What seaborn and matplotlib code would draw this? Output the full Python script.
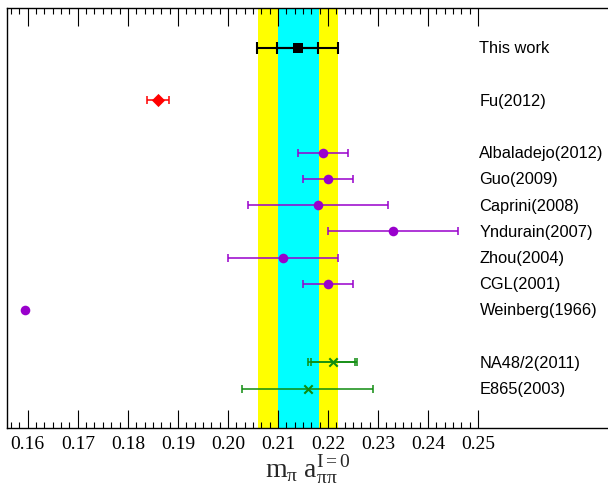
import numpy as np
import pandas as pd
import matplotlib
matplotlib.use("Agg")
import matplotlib.pyplot as plt
import seaborn as sns

# ---------------- data ----------------
rows = ["This work", None, "Fu(2012)", None,
        "Albaladejo(2012)", "Guo(2009)", "Caprini(2008)", "Yndurain(2007)",
        "Zhou(2004)", "CGL(2001)", "Weinberg(1966)", None,
        "NA48/2(2011)", "E865(2003)"]

names  = ["This work", "Fu(2012)", "Albaladejo(2012)", "Guo(2009)", "Caprini(2008)",
          "Yndurain(2007)", "Zhou(2004)", "CGL(2001)", "Weinberg(1966)",
          "NA48/2(2011)", "E865(2003)"]
values = [0.2140, 0.1860, 0.2190, 0.2200, 0.2180, 0.2331, 0.2110, 0.2200, 0.1595, 0.2210, 0.2160]
err_in = [0.0041, 0.0022, 0.0050, 0.0050, 0.0140, 0.0130, 0.0110, 0.0050, 0.0, 0.0044, 0.0131]
err_out = [0.0081, 0.0, 0.0, 0.0, 0.0, 0.0, 0.0, 0.0, 0.0, 0.0049, 0.0]
groups = ["this", "lattice", "theory", "theory", "theory", "theory", "theory", "theory",
          "theory", "experiment", "experiment"]

band_stat = (0.2100, 0.2182)
band_tot = (0.2060, 0.2221)

major_ticks = [0.16, 0.17, 0.18, 0.19, 0.20, 0.21, 0.22, 0.23, 0.24, 0.25]
major_labels = ["0.16", "0.17", "0.18", "0.19", "0.20", "0.21", "0.22", "0.23", "0.24", "0.25"]

# ---------------- styling ----------------
colors = {"this": "black", "lattice": "#ff0000", "theory": "#9900cc", "experiment": "#108c10"}
markers = {"this": "s", "lattice": "D", "theory": "o", "experiment": "X"}

sns.set_style("white")
plt.rcParams["mathtext.fontset"] = "custom"
plt.rcParams["mathtext.rm"] = "Liberation Serif"
plt.rcParams["mathtext.it"] = "Liberation Serif:italic"
plt.rcParams["mathtext.bf"] = "Liberation Serif:bold"

fig = plt.figure(figsize=(6.08, 4.89), dpi=100)
ax = fig.add_axes([0.012, 0.1227, 0.988, 0.858])

ypos = {n: i for i, n in enumerate(rows) if n is not None}
df = pd.DataFrame({"name": names, "value": values, "err_in": err_in,
                   "err_out": err_out, "group": groups})
df["row"] = df["name"].map(ypos)

ax.axvspan(*band_tot, color="#ffff00", zorder=0, lw=0)
ax.axvspan(*band_stat, color="#00ffff", zorder=0.5, lw=0)

for _, r in df.iterrows():
    c = colors[r.group]
    lw = 1.5 if r.group == "this" else 1.1
    cs = 4.0 if r.group == "this" else 3.2
    if r.err_out > 0:
        ax.errorbar(r.value, r.row, xerr=r.err_out, fmt="none", ecolor=c,
                    elinewidth=lw, capsize=cs, capthick=lw, zorder=2)
    if r.err_in > 0:
        ax.errorbar(r.value, r.row, xerr=r.err_in, fmt="none", ecolor=c,
                    elinewidth=lw, capsize=cs, capthick=lw, zorder=2)

for g, sub in df.groupby("group"):
    if g == "experiment":
        ax.scatter(sub["value"], sub["row"], marker="x", s=36, color=colors[g],
                   linewidths=1.5, zorder=3)
    else:
        sns.scatterplot(data=sub, x="value", y="row", marker=markers[g],
                        color=colors[g], s={"this": 60, "lattice": 45, "theory": 48}[g],
                        edgecolor=colors[g], linewidth=0, ax=ax, zorder=3, legend=False)

for n, y in ypos.items():
    ax.text(0.2503, y, n, ha="left", va="center", fontsize=11.8,
            family="Liberation Sans", color="black")

ax.set_xlim(0.1559, 0.276)
ax.set_ylim(14.5, -1.5)
ax.set_yticks([])
ax.set_ylabel("")

ax.set_xticks(major_ticks)
ax.set_xticklabels(major_labels, fontsize=14, family="Liberation Serif")
minor = [0.16 + k * 0.01 / 6 for k in range(-2, 55)]
minor = [m for m in minor if all(abs(m - t) > 1e-6 for t in major_ticks)]
ax.set_xticks(minor, minor=True)
ax.tick_params(axis="x", which="major", direction="in", length=13, width=0.8,
               top=True, bottom=True, labeltop=False, pad=5, colors="black")
ax.tick_params(axis="x", which="minor", direction="in", length=4.3, width=0.8,
               top=True, bottom=True, colors="black")
ax.tick_params(axis="y", left=False, right=False)

for s in ["left", "top", "bottom"]:
    ax.spines[s].set_visible(True)
    ax.spines[s].set_color("black")
    ax.spines[s].set_linewidth(1.0)
ax.spines["right"].set_visible(False)

ax.set_xlabel(r"$\mathrm{m_{π}\ a_{ππ}^{I=0}}$", fontsize=20, labelpad=0)

fig.savefig("out.png", dpi=100)
